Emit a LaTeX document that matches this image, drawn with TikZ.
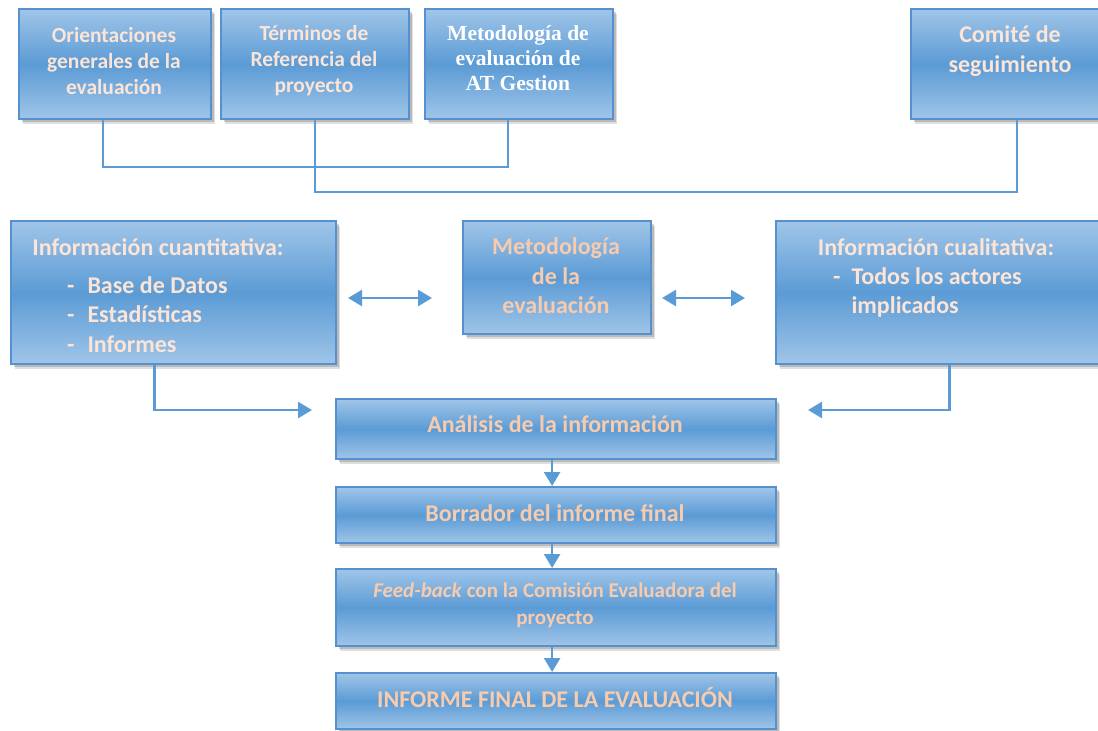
\documentclass[tikz,border=0pt]{standalone}
\usepackage{fontspec}
\setmainfont{Carlito}
\newfontfamily\serifb{Liberation Serif}
\usetikzlibrary{arrows.meta,shadows}
\definecolor{boxlight}{RGB}{160,197,232}
\definecolor{boxmid}{RGB}{91,155,213}
\definecolor{boxedge}{RGB}{84,145,206}
\definecolor{peach}{RGB}{252,228,214}
\definecolor{opeach}{RGB}{248,203,173}
\definecolor{lineblue}{RGB}{91,155,213}
\tikzset{
  box/.style={draw=boxedge, line width=2.2pt, top color=boxlight, bottom color=boxlight,
    middle color=boxmid,
    drop shadow={shadow xshift=4pt, shadow yshift=-5pt, opacity=0.18, fill=black!70},
    drop shadow={shadow xshift=2.5pt, shadow yshift=-3pt, opacity=0.25, fill=black!70},
    inner sep=0pt, anchor=north west},
  txt/.style={text=peach, align=center, inner sep=0pt},
  otxt/.style={txt, text=opeach},
  conn/.style={draw=lineblue, line width=2.5pt},
  arr/.style={conn, -{Triangle[length=14pt,width=16pt]}},
  darr/.style={conn, {Triangle[length=14pt,width=16pt]}-{Triangle[length=14pt,width=16pt]}},
  fA/.style={font=\fontsize{21.5}{26}\selectfont\bfseries},
  fB/.style={font=\fontsize{24}{29.5}\selectfont\bfseries},
  fC/.style={font=\fontsize{24}{30}\selectfont\bfseries},
}
\begin{document}
\begin{tikzpicture}[x=1pt,y=-1pt]
\useasboundingbox (0,0) rectangle (1098,731);
% top row
\node[box, minimum width=192pt, minimum height=110pt] (or) at (18,8) {};
\node[box, minimum width=188pt, minimum height=110pt] (tr) at (220,8) {};
\node[box, minimum width=188pt, minimum height=110pt] (am) at (424,8) {};
\node[box, minimum width=188pt, minimum height=110pt] (cs) at (910,8) {};
\node[txt, fA] (tor) at (114,61) {Orientaciones\\generales de la\\evaluación};
\node[txt, fA] (ttr) at (314,61) {Términos de\\Referencia del\\proyecto};
\node[txt, text=white, font=\fontsize{21.5}{25}\selectfont\serifb\bfseries] (tam) at (518,58) {Metodología de\\evaluación de\\AT Gestion};
\node[txt, fC] (tcs) at (1010,51) {Comité de\\seguimiento};
\draw[conn] ([xshift=-12pt]or.south) -- ++(0,47) -| ([xshift=-11pt]am.south);
\draw[conn] (tr.south) -- ++(0,72) -| ([xshift=12pt]cs.south);
% middle row
\node[box, minimum width=325pt, minimum height=143pt] (ic) at (10,220) {};
\node[box, minimum width=188pt, minimum height=113pt] (me) at (462,220) {};
\node[box, minimum width=323pt, minimum height=143pt] (iq) at (775,220) {};
\node[txt, fB] (tic) at (158,247) {Información cuantitativa:};
\node[txt, fB, anchor=west, align=left] (lic) at (67,317) {\begin{tabular}{@{}l@{\hspace{13pt}}l@{}}-&Base de Datos\\-&Estadísticas\\-&Informes\end{tabular}};
\node[otxt, fB] (tme) at (556,276) {Metodología\\de la\\evaluación};
\node[txt, fB] (tiq) at (936,247) {Información cualitativa:};
\node[txt, fB, anchor=west, align=left] (liq) at (833,293) {\begin{tabular}{@{}l@{\hspace{11pt}}l@{}}-&Todos los actores\\&implicados\end{tabular}};
\coordinate (d1a) at (348,298); \coordinate (d1b) at (432,298);
\coordinate (d2a) at (662,298); \coordinate (d2b) at (745,298);
\draw[darr] (d1a) -- (d1b);
\draw[darr] (d2a) -- (d2b);
% bottom column
\node[box, minimum width=440pt, minimum height=60pt] (an) at (335,398) {};
\node[box, minimum width=440pt, minimum height=56pt] (bo) at (335,486) {};
\node[box, minimum width=440pt, minimum height=77pt] (fb) at (335,568) {};
\node[box, minimum width=440pt, minimum height=56pt] (inf) at (335,672) {};
\node[otxt, fB] (tan) at (555,424) {Análisis de la información};
\node[otxt, fB] (tbo) at (555,513) {Borrador del informe final};
\node[otxt, font=\fontsize{21}{27}\selectfont\bfseries] (tfb) at (555,605) {\textit{Feed-back} con la Comisión Evaluadora del\\proyecto};
\node[otxt, fB] (tinf) at (555,698) {INFORME FINAL DE LA EVALUACIÓN};
\coordinate (la) at (312,410);
\coordinate (ra) at (808,410);
\draw[arr] ([xshift=-19pt]ic.south) |- (la);
\draw[arr] ([xshift=12pt]iq.south) |- (ra);
\draw[arr] ([xshift=-4pt]an.south) -- ([xshift=-4pt]bo.north);
\draw[arr] ([xshift=-4pt]bo.south) -- ([xshift=-4pt]fb.north);
\draw[arr] ([xshift=-4pt]fb.south) -- ([xshift=-4pt]inf.north);
\end{tikzpicture}
\end{document}
